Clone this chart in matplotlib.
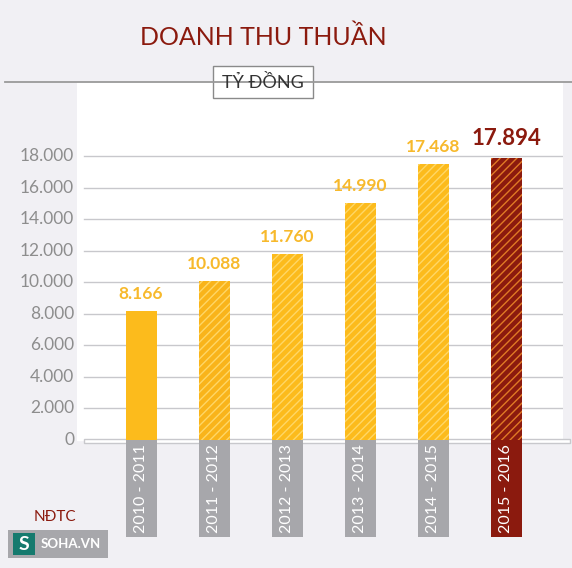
import numpy as np
import matplotlib.pyplot as plt
from matplotlib.patches import Rectangle

years = ["2010 - 2011", "2011 - 2012", "2012 - 2013", "2013 - 2014", "2014 - 2015", "2015 - 2016"]
values = [8166, 10088, 11760, 14990, 17468, 17894]
value_labels = ["8.166", "10.088", "11.760", "14.990", "17.468", "17.894"]
yticks = [0, 2000, 4000, 6000, 8000, 10000, 12000, 14000, 16000, 18000]
ytick_labels = ["0", "2.000", "4.000", "6.000", "8.000", "10.000", "12.000", "14.000", "16.000", "18.000"]

plt.rcParams['font.family'] = ['Lato', 'DejaVu Sans']
plt.rcParams['hatch.linewidth'] = 1.0

W, H = 572, 568
bg = "#f1f0f4"
yellow = "#fcbb1c"
dark = "#8b1a0e"
grey_txt = "#8d8d8d"

fig = plt.figure(figsize=(W / 100, H / 100), dpi=100, facecolor=bg)

# pixel helpers
px_per_k = 284 / 18000  # px per unit
y0_px = 440
top_px = 82
bot_px = 537
left_px, right_px = 77, 563
x0_px, dx_px = 141, 73

ax = fig.add_axes([left_px / W, 1 - bot_px / H, (right_px - left_px) / W, (bot_px - top_px) / H])
ax.set_facecolor("none")
ymax = (y0_px - top_px) / px_per_k
ymin = -(bot_px - y0_px) / px_per_k
ax.set_ylim(ymin, ymax)
xl = (left_px - x0_px) / dx_px
xr = (right_px - x0_px) / dx_px
ax.set_xlim(xl, xr)
for s in ax.spines.values():
    s.set_visible(False)
ax.set_xticks([])
ax.set_yticks([])

# white panel
ax.axhspan(0, ymax, color="white", zorder=0)

# grid
g0 = (84 - left_px) / (right_px - left_px)
for t in yticks[1:]:
    ax.axhline(t, xmin=g0, xmax=1, color="#c8c8cc", lw=1.0, zorder=1)
ax.add_patch(Rectangle((xl + (84 - left_px) / dx_px, -3 / px_per_k), xr - xl, 4 / px_per_k,
                       facecolor="white", edgecolor="#c8c8cc", lw=1.0, zorder=1, clip_on=False))

bw = 31 / dx_px
for i, v in enumerate(values):
    if i == 0:
        ax.bar(i, v, width=bw, color=yellow, lw=0, zorder=3)
    elif i < 5:
        c = "#f9b41a" if i == 1 else yellow
        ax.bar(i, v, width=bw, color=c, edgecolor="#ffd766", hatch="////", lw=0, zorder=3)
    else:
        ax.bar(i, v, width=bw, color=dark, edgecolor="#e07a25", hatch="////", lw=0, zorder=3)

# value labels
for i, (v, lab) in enumerate(zip(values, value_labels)):
    if i < 5:
        ax.text(i, v + 9 / px_per_k, lab, ha="center", va="bottom", fontsize=12.5,
                fontweight="bold", color="#f7b92c", zorder=4)
    else:
        ax.text(i, v + 9 / px_per_k, lab, ha="center", va="bottom", fontsize=16,
                fontweight="bold", color=dark, zorder=4,
                bbox=dict(facecolor="white", edgecolor="none", pad=2))

# category boxes
lab_h = (bot_px - y0_px) / px_per_k
for i, yr in enumerate(years):
    c = dark if i == 5 else "#a7a7ab"
    ax.bar(i, -lab_h, width=bw, color=c, lw=0, zorder=3)
    ax.text(i, -lab_h / 2, yr, rotation=90, ha="center", va="center", fontsize=11.5,
            color="white", zorder=4)

# y tick labels
for t, lab in zip(yticks, ytick_labels):
    ax.text(xl - 3 / dx_px, t, lab, ha="right", va="center", fontsize=12.5, color=grey_txt)

# overlay for header/footer
ov = fig.add_axes([0, 0, 1, 1], facecolor="none")
ov.set_xlim(0, W)
ov.set_ylim(H, 0)
ov.axis("off")
ov.text(263, 37, "DOANH THU THUẦN", ha="center", va="center", fontsize=18, color=dark)
ov.plot([5, W], [82, 82], color="#9a9a9a", lw=1.3)
ov.add_patch(Rectangle((213, 66), 100, 32, facecolor="white", edgecolor="#8a8a8a", lw=1))
ov.text(263, 82, "TỶ ĐỒNG", ha="center", va="center", fontsize=13, color="#333333")
ov.text(55, 517, "NĐTC", ha="center", va="center", fontsize=11, color=dark)
ov.add_patch(Rectangle((8, 530), 100, 28, facecolor="#a7a7ab", edgecolor="none"))
ov.add_patch(Rectangle((13, 533), 22, 22, facecolor="#157a6e", edgecolor="none"))
ov.text(24, 544.5, "S", ha="center", va="center", fontsize=14, fontweight="bold", color="white")
ov.text(41, 544.5, "SOHA.VN", ha="left", va="center", fontsize=9.5, fontweight="bold", color="white")

fig.savefig("out.png", dpi=100, facecolor=bg)
